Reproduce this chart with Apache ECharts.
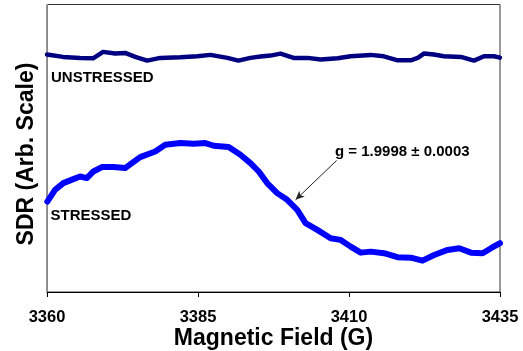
<!DOCTYPE html>
<html>
<head>
<meta charset="utf-8">
<script src="https://cdn.jsdelivr.net/npm/echarts@6/dist/echarts.min.js"></script>
<style>
html,body{margin:0;padding:0;background:#fff;}
#chart{width:523px;height:351px;}
</style>
</head>
<body>
<div id="chart"></div>
<script>
// Magnetic field (G) and SDR signal (arbitrary units)
const unstressedField = [3360.0,3362.65,3365.48,3367.63,3369.29,3371.28,3372.94,3374.60,3376.59,3378.75,3382.07,3384.89,3387.05,3389.87,3391.69,3393.68,3395.34,3397.00,3398.66,3400.82,3403.14,3405.30,3408.12,3410.28,3413.60,3415.75,3418.07,3420.23,3421.39,3422.39,3424.05,3425.71,3428.53,3430.69,3432.35,3434.00,3435.0];
const unstressedSDR = [237,234.7,233.7,233.3,239.7,238,238.7,234.7,231,233.7,234.3,235.3,236.7,233.7,231,233.7,235,236,238,233.7,233.7,232,233.3,235.3,236.7,235.3,231.3,231.3,233.7,238,237,235.3,234.7,231,235.3,235.3,234];
const stressedField = [3360.05,3361.33,3362.70,3364.36,3365.48,3366.59,3367.68,3369.08,3371.00,3372.94,3374.05,3375.43,3377.92,3379.58,3382.07,3384.28,3386.22,3387.60,3390.08,3392.02,3393.68,3395.06,3396.45,3398.11,3399.77,3401.43,3402.81,3404.75,3406.96,3408.62,3410.28,3411.94,3413.60,3415.80,3418.02,3420.23,3422.17,3424.10,3426.32,3428.25,3430.19,3432.13,3433.51,3435.0];
const stressedSDR = [90.3,102,108.7,112.7,115.3,113.7,120.3,124.7,124.7,123.7,128.7,134.7,140.3,147,148.7,148,148.7,146,144.7,137,128.7,120.3,108.7,98.7,92,82,68.7,62,53.7,52,45.3,39.3,40.3,38.7,34.7,34.3,31.3,37,42,43.7,39.3,38.7,43.7,48.7];
const xTicks = [3360,3385,3410,3435];
const seriesNames = ['UNSTRESSED','STRESSED'];
const annotationText = 'g = 1.9998 \u00b1 0.0003';
const arrowFrom = [3407.95,131.3];
const arrowTo = [3401.15,92];

const FONT = "'Liberation Sans', Arial, sans-serif";
const chart = echarts.init(document.getElementById('chart'), null, {renderer:'canvas'});
const zip = (a,b)=>a.map((v,i)=>[v,b[i]]);

chart.setOption({
  animation:false,
  backgroundColor:'#fff',
  grid:{left:47,right:23,top:4.5,bottom:59,containLabel:false,outerBoundsMode:'none',show:true,borderColor:'#333',borderWidth:1,backgroundColor:'transparent'},
  xAxis:{
    type:'value',min:xTicks[0],max:xTicks[xTicks.length-1],interval:25,
    name:'Magnetic Field (G)',nameLocation:'middle',nameGap:35,nameMoveOverlap:false,
    nameTextStyle:{fontFamily:FONT,fontWeight:'bold',fontSize:23,color:'#000'},
    axisLine:{show:true,lineStyle:{color:'#000',width:1}},
    axisTick:{show:true,inside:false,length:5,lineStyle:{color:'#000'}},
    axisLabel:{margin:17,fontFamily:FONT,fontWeight:'bold',fontSize:16.5,color:'#000',formatter:v=>String(v)},
    splitLine:{show:false}
  },
  yAxis:{
    type:'value',min:0,max:287,
    axisLine:{show:true,onZero:false,lineStyle:{color:'#888',width:1}},
    axisTick:{show:false},axisLabel:{show:false},splitLine:{show:false}
  },
  graphic:[
    {type:'text',x:26.7,y:154,rotation:Math.PI/2,style:{text:'SDR (Arb. Scale)',font:"bold 23px 'Liberation Sans', Arial",fill:'#000',textAlign:'center',textVerticalAlign:'middle'}},
    {type:'text',x:51,y:78,style:{text:seriesNames[0],font:"bold 15px 'Liberation Sans', Arial",fill:'#000',textAlign:'left',textVerticalAlign:'middle'}},
    {type:'text',x:50.5,y:216,style:{text:seriesNames[1],font:"bold 15px 'Liberation Sans', Arial",fill:'#000',textAlign:'left',textVerticalAlign:'middle'}},
    {type:'text',x:335,y:152,style:{text:annotationText,font:"bold 15px 'Liberation Sans', Arial",fill:'#000',textAlign:'left',textVerticalAlign:'middle'}}
  ],
  series:[
    {name:seriesNames[0],type:'line',data:zip(unstressedField,unstressedSDR),showSymbol:false,symbol:'none',
     lineStyle:{color:'#000080',width:4.5,cap:'round',join:'round'},z:3},
    {name:seriesNames[1],type:'line',data:zip(stressedField,stressedSDR),showSymbol:false,symbol:'none',
     lineStyle:{color:'#0000ff',width:6,cap:'round',join:'round'},z:3,
     markLine:{silent:true,symbol:['none','arrow'],symbolSize:[6,9],label:{show:false},
       lineStyle:{color:'#222',width:1,type:'solid'},
       data:[[{coord:arrowFrom},{coord:arrowTo}]]}}
  ]
});
</script>
</body>
</html>
